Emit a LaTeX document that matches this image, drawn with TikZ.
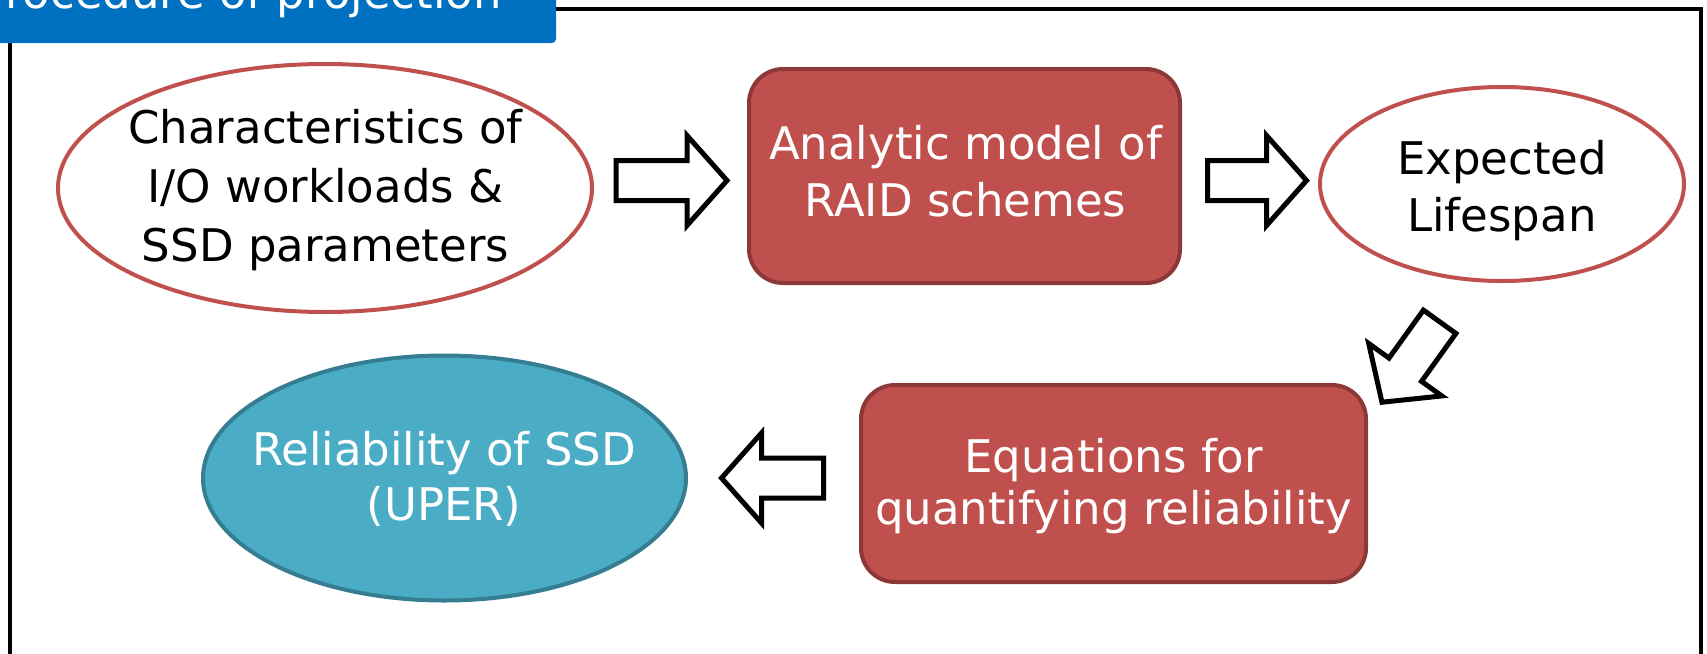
\documentclass[tikz,border=0pt]{standalone}
\usepackage{fontspec}
\setmainfont{DejaVu Sans}
\usetikzlibrary{shapes.geometric}

\definecolor{boxred}{HTML}{C0504D}
\definecolor{boxredline}{HTML}{8C3836}
\definecolor{tealfill}{HTML}{4BACC6}
\definecolor{tealline}{HTML}{357D91}
\definecolor{titleblue}{HTML}{0070C0}

\tikzset{
  x=0.5pt, y=-0.5pt,
  lbl/.style={font=\fontsize{22.5pt}{#1}\selectfont, align=center, inner sep=0pt},
  lbl/.default=28.5pt,
  outlineoval/.style={ellipse, draw=boxred, fill=white, line width=2pt, inner sep=0pt},
  redbox/.style={rectangle, rounded corners=17pt, draw=boxredline, fill=boxred, line width=2pt, inner sep=0pt},
  tealoval/.style={ellipse, draw=tealline, fill=tealfill, line width=2pt, inner sep=0pt},
  blockarrow/.style={draw=black, fill=white, line width=2.5pt, line join=miter, miter limit=10},
  % hollow block arrow pointing along +x, centred on its origin; #1 = length
  pics/barrow/.style={code={
    \draw[blockarrow] (-#1/2,-20) -- (#1/2-40,-20) -- (#1/2-40,-45) -- (#1/2,0)
      -- (#1/2-40,45) -- (#1/2-40,20) -- (-#1/2,20) -- cycle;
  }},
}

\begin{document}
\begin{tikzpicture}
\useasboundingbox (0,0) rectangle (1707,653);
\clip (0,0) rectangle (1707,653);

% outer frame and title tab
\draw[line width=2pt] (10,8.5) rectangle (1701,720);
\path[fill=titleblue, rounded corners=2pt] (-30,-30) rectangle (556,43);
\node[lbl, anchor=base west, text=white] (title) at (-21.5,9) {Procedure of projection};

% stages
\node[outlineoval, minimum width=267pt, minimum height=124pt] (workload) at (325,188) {};
\node[lbl=29.5pt] (workloadtext) at (325.5,190) {Characteristics of\\I/O workloads \&\\SSD parameters};

\node[redbox, minimum width=215.5pt, minimum height=107pt] (model) at (964.5,176) {};
\node[lbl=28.5pt, text=white] (modeltext) at (965.5,171.5) {Analytic model of\\RAID schemes};

\node[outlineoval, minimum width=182pt, minimum height=97pt] (life) at (1502,184) {};
\node[lbl=28.5pt] (lifetext) at (1502,190.5) {Expected\\Lifespan};

\node[redbox, minimum width=252.5pt, minimum height=98.5pt] (eq) at (1113.5,483.5) {};
\node[lbl=26pt, text=white] (eqtext) at (1113.5,486) {Equations for\\quantifying reliability};

\node[tealoval, minimum width=241.5pt, minimum height=122.5pt] (uper) at (444.5,478) {};
\node[lbl=27.5pt, text=white] (upertext) at (444,478.5) {Reliability of SSD\\(UPER)};

% flow arrows between stages
\pic at (671.5,180.5) {barrow=111};
\pic at (1257,180.5) {barrow=99};
\pic[rotate=234.35] at (1410.8,362) {barrow=99};
\pic[rotate=180] at (772.5,478) {barrow=102};
\end{tikzpicture}
\end{document}
